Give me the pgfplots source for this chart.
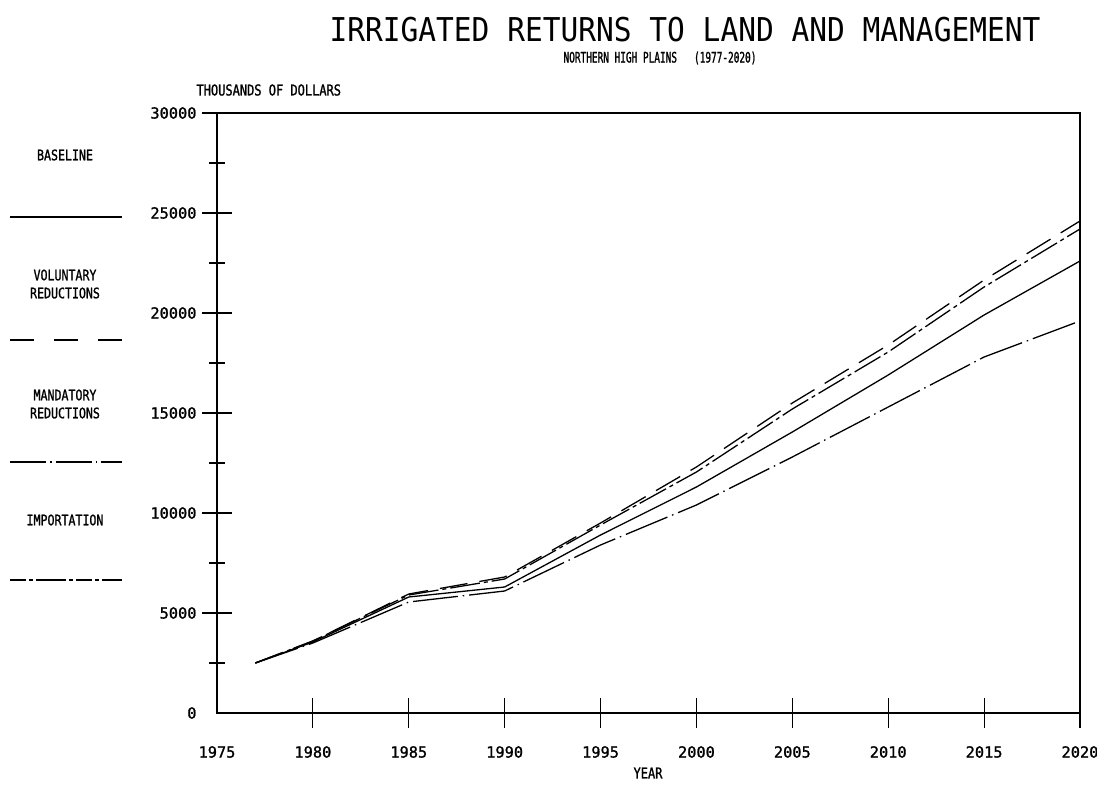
\documentclass[border=0pt]{standalone}
\usepackage{fontspec}
\usepackage{pgfplots}
\pgfplotsset{compat=1.18}
\usepackage{pgfplotstable}

\newfontfamily\plotfont{DejaVu Sans Mono}[FakeStretch=0.8, FakeBold=1.2]
\newfontfamily\subfont{DejaVu Sans Mono}[FakeStretch=0.65, FakeBold=1.2]
\newfontfamily\titlefont{DejaVu Sans Mono}[FakeStretch=0.9]
\newfontfamily\tickfont{DejaVu Sans Mono}[FakeBold=1.2]

% Returns to land and management, thousands of dollars
\pgfplotstableread{
year baseline voluntary mandatory importation
1977 2500  2500  2500  2500
1980 3550  3600  3500  3600
1985 5800  5950  5550  5900
1990 6300  6800  6100  6700
1995 8900  9500  8400  9400
2000 11300 12300 10400 12050
2005 14050 15500 12800 15200
2010 16900 18400 15300 18050
2015 19900 21650 17800 21300
2020 22600 24600 19600 24200
}\returns

\tikzset{
  baselinestyle/.style={line width=1.3pt},
  voluntarystyle/.style={line width=1.3pt, dash pattern=on 28pt off 12pt},
  mandatorystyle/.style={line width=1.3pt, dash pattern=on 45pt off 5pt on 1.5pt off 5pt},
  importationstyle/.style={line width=1.3pt, dash pattern=on 30pt off 4pt on 4pt off 4pt},
}

\begin{document}
\begin{tikzpicture}
\useasboundingbox (0,0) rectangle (1097pt,811pt);

% titles
\node[font=\titlefont\fontsize{32.8}{34}\selectfont] at (685pt,781pt) {IRRIGATED RETURNS TO LAND AND MANAGEMENT};
\node[font=\subfont\fontsize{14.5}{16}\selectfont] at (660pt,753pt) {NORTHERN HIGH PLAINS\ \ \ (1977-2020)};
\node[font=\plotfont\fontsize{15}{16}\selectfont, anchor=west] at (193pt,721pt) {THOUSANDS OF DOLLARS};
\node[font=\plotfont\fontsize{15}{16}\selectfont] at (648pt,38pt) {YEAR};

% key on the left
\begin{scope}[font=\plotfont\fontsize{14.5}{18}\selectfont, align=center]
  \node at (65pt,656pt) {BASELINE};
  \draw[baselinestyle] (10pt,594pt) -- (122pt,594pt);
  \node at (65pt,527pt) {VOLUNTARY\\REDUCTIONS};
  \draw[line width=1.3pt, dash pattern=on 24pt off 20pt] (10pt,471pt) -- (122pt,471pt);
  \node at (65pt,407pt) {MANDATORY\\REDUCTIONS};
  \draw[line width=1.3pt, dash pattern=on 36pt off 4pt on 1.5pt off 4pt] (10pt,349pt) -- (122pt,349pt);
  \node at (65pt,291pt) {IMPORTATION};
  \draw[line width=1.3pt, dash pattern=on 16pt off 3pt on 4pt off 3pt on 30pt off 3pt on 4pt off 3pt] (10pt,231pt) -- (122pt,231pt);
\end{scope}

\begin{axis}[
  at={(217pt,98pt)}, anchor=south west,
  scale only axis, width=863pt, height=600pt,
  xmin=1975, xmax=2020, ymin=0, ymax=30000,
  axis line style={line width=1.3pt},
  tick pos=left,
  tick align=center,
  xtick={1980,1985,...,2020},
  ytick={5000,10000,...,30000},
  minor ytick={2500,7500,...,27500},
  extra x ticks={1975},
  extra y ticks={0},
  extra tick style={every major tick/.append style={draw=none}},
  major tick length=30pt,
  minor tick length=16pt,
  every tick/.style={line width=1.2pt, black},
  /pgf/number format/1000 sep={},
  /pgf/number format/assume math mode=true,
  tick label style={font=\tickfont\fontsize{15.3}{16}\selectfont},
  xticklabel style={anchor=center, yshift=-24pt},
  yticklabel style={anchor=east, xshift=-2pt},
  scaled y ticks=false,
  clip=false,
]
\addplot[baselinestyle]    table[x=year, y=baseline]    {\returns};
\addplot[voluntarystyle]   table[x=year, y=voluntary]   {\returns};
\addplot[mandatorystyle]   table[x=year, y=mandatory]   {\returns};
\addplot[importationstyle] table[x=year, y=importation] {\returns};
\end{axis}
\end{tikzpicture}
\end{document}
